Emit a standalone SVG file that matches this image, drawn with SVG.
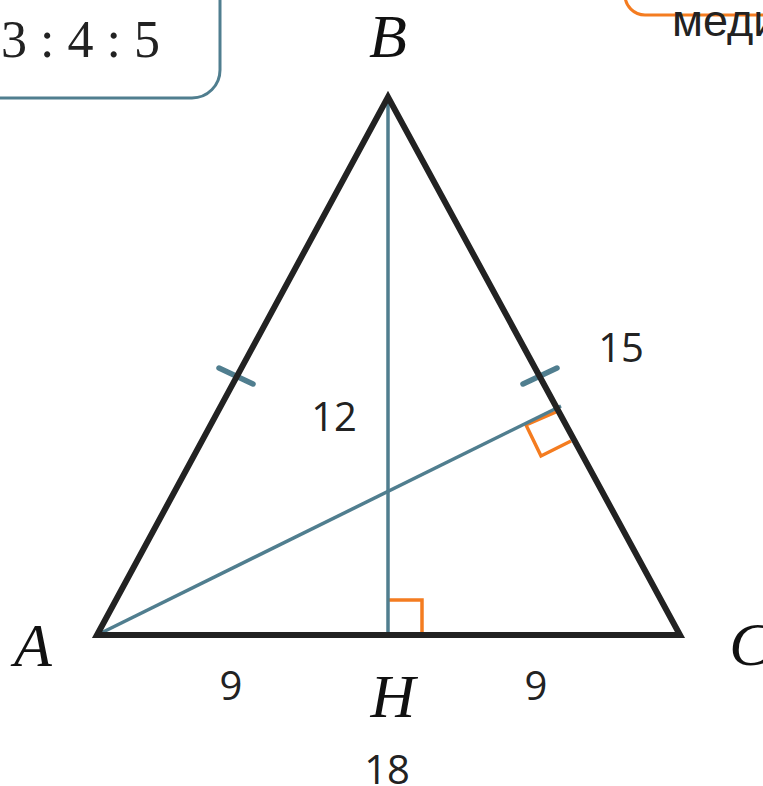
<svg xmlns="http://www.w3.org/2000/svg" width="763" height="786" viewBox="0 0 763 786">
<style>
.tri{fill:none;stroke:#222222;stroke-width:6;stroke-linejoin:miter}
.alt{fill:none;stroke:#507e8f;stroke-width:3.5}
.tick{fill:none;stroke:#507e8f;stroke-width:5.5;stroke-linecap:round}
.ra{fill:none;stroke:#f47c20;stroke-width:3.5}
.pt{font-family:"Liberation Serif",serif;font-style:italic;font-size:62px;fill:#111111;text-anchor:middle}
.num{font-family:"Open Sans","Liberation Sans",sans-serif;font-size:40px;fill:#222222;text-anchor:middle}
</style>
<rect width="763" height="786" fill="#ffffff"/>
<g id="ratio-box">
<rect x="-40" y="-40" width="260" height="138" rx="28" fill="#ffffff" stroke="#507e8f" stroke-width="3"/>
<text x="160" y="57" font-family="Liberation Serif,serif" font-size="52" fill="#222222" text-anchor="end">3 : 4 : 5</text>
</g>
<g id="median-box">
<rect x="625" y="-40" width="200" height="55" rx="20" fill="#ffffff" stroke="#f47c20" stroke-width="3"/>
<text x="672" y="36" font-family="Liberation Sans,Arial,sans-serif" font-size="45" fill="#222222">меди</text>
</g>
<g id="connectors">
<polyline class="ra" points="388,600 422,600 422,635"/>
<polyline class="ra" points="556,412 526,425 541,456 571,441"/>
<line class="alt" x1="388" y1="96" x2="388" y2="635"/>
<line class="alt" x1="97" y1="635" x2="561" y2="406"/>
<line class="tick" x1="219" y1="368" x2="253" y2="384"/>
<line class="tick" x1="523" y1="384" x2="557" y2="368"/>
</g>
<g id="triangle">
<polygon class="tri" points="97,635 388,97 680,635"/>
</g>
<g id="label-B"><text class="pt" x="388" y="57">B</text></g>
<g id="label-A"><text class="pt" x="33" y="666">A</text></g>
<g id="label-C"><text class="pt" x="750" y="665">C</text></g>
<g id="label-H"><text class="pt" x="393" y="717">H</text></g>
<g id="label-12"><text class="num" x="334" y="431">12</text></g>
<g id="label-15"><text class="num" x="621" y="362">15</text></g>
<g id="label-9a"><text class="num" x="231" y="700">9</text></g>
<g id="label-9b"><text class="num" x="536" y="700">9</text></g>
<g id="label-18"><text class="num" x="387" y="784">18</text></g>
</svg>
